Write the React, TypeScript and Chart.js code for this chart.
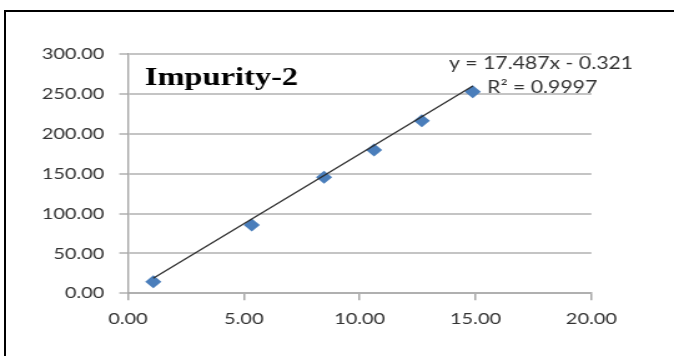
import React, { useEffect, useRef } from "react";
import { Chart, registerables } from "chart.js";

Chart.register(...registerables);

// ---- data ----
const concentrations = [1.09, 5.34, 8.46, 10.62, 12.68, 14.88];
const areas = [14.5, 85.6, 145.4, 179.6, 216.3, 252.6];
const xTicks = [0, 5, 10, 15, 20];
const yTicks = [0, 50, 100, 150, 200, 250, 300];
const slope = 17.487;
const intercept = -0.321;
const titleText = "Impurity-2";
const equationText = "y = 17.487x - 0.321";
const r2Text = "R\u00B2 = 0.9997";

// internal canvas is drawn narrower and stretched horizontally to match the reference
const DISPLAY_W = 674;
const DISPLAY_H = 356;
const CANVAS_W = 540;
const S = DISPLAY_W / CANVAS_W;

const annotations = {
  id: "annotations",
  afterDatasetsDraw(chart: any) {
    const { ctx, chartArea } = chart;
    ctx.save();
    ctx.fillStyle = "#000000";
    ctx.font = "bold 26px 'Liberation Serif', 'Times New Roman', serif";
    ctx.textAlign = "left";
    ctx.textBaseline = "alphabetic";
    ctx.fillText(titleText, chartArea.left + 13.5, 85);

    ctx.fillStyle = "#333333";
    ctx.font = "17px Lato, 'Open Sans', sans-serif";
    ctx.textAlign = "center";
    ctx.textBaseline = "middle";
    const cx = 541 / S;
    ctx.fillText(equationText, cx, 64);
    ctx.fillText(r2Text, cx + 1, 88);
    ctx.restore();
  },
};

export default function App() {
  const ref = useRef<HTMLCanvasElement | null>(null);

  useEffect(() => {
    if (!ref.current) return;
    const xMin = Math.min(...concentrations);
    const xMax = Math.max(...concentrations);
    const trend = [
      { x: xMin, y: slope * xMin + intercept },
      { x: xMax, y: slope * xMax + intercept },
    ];
    const points = concentrations.map((x, i) => ({ x, y: areas[i] }));

    const chart = new Chart(ref.current, {
      type: "scatter",
      data: {
        datasets: [
          {
            label: "Linear",
            data: trend,
            showLine: true,
            pointRadius: 0,
            borderColor: "#2a2a2a",
            borderWidth: 1.2,
            fill: false,
          },
          {
            label: titleText,
            data: points,
            pointStyle: "rectRot",
            pointRadius: 6.5,
            pointBackgroundColor: "#4a7ebb",
            pointBorderColor: "#4a7ebb",
            pointBorderWidth: 0,
            showLine: false,
          },
        ],
      },
      options: {
        responsive: false,
        animation: false,
        devicePixelRatio: 1,
        layout: {
          padding: { left: 0, right: CANVAS_W - 591.4 / S, top: 53.9, bottom: 0 },
        },
        plugins: {
          legend: { display: false },
          tooltip: { enabled: false },
          title: { display: false },
        },
        scales: {
          x: {
            type: "linear",
            min: 0,
            max: 20,
            afterBuildTicks: (scale: any) => {
              scale.ticks = xTicks.map((v) => ({ value: v }));
            },
            afterFit: (scale: any) => {
              scale.height = DISPLAY_H - 293.3;
            },
            ticks: {
              callback: (v: any) => Number(v).toFixed(2),
              font: { family: "Lato, 'Open Sans', sans-serif", size: 16 },
              color: "#333333",
              padding: 9,
              maxRotation: 0,
            },
            grid: {
              drawOnChartArea: false,
              drawTicks: true,
              tickLength: 7,
              color: "#a6a6a6",
              lineWidth: 1.5,
            },
            border: { display: true, color: "#b0b0b0", width: 2 },
          },
          y: {
            type: "linear",
            min: 0,
            max: 300,
            afterBuildTicks: (scale: any) => {
              scale.ticks = yTicks.map((v) => ({ value: v }));
            },
            afterFit: (scale: any) => {
              scale.width = 128 / S;
            },
            ticks: {
              callback: (v: any) => Number(v).toFixed(2),
              font: { family: "Lato, 'Open Sans', sans-serif", size: 16 },
              color: "#333333",
              padding: 12,
            },
            grid: {
              drawOnChartArea: true,
              drawTicks: true,
              tickLength: 7,
              color: "#c4c4c4",
              lineWidth: 2,
            },
            border: { display: true, color: "#a6a6a6", width: 1.4 },
          },
        },
      },
      plugins: [annotations],
    });
    return () => chart.destroy();
  }, []);

  return (
    <div
      style={{
        position: "fixed",
        left: 0,
        top: 0,
        width: DISPLAY_W + "px",
        height: DISPLAY_H + "px",
        overflow: "hidden",
        background: "#ffffff",
      }}
    >
      <canvas
        ref={ref}
        width={CANVAS_W}
        height={DISPLAY_H}
        style={{
          position: "absolute",
          left: 0,
          top: 0,
          width: DISPLAY_W + "px",
          height: DISPLAY_H + "px",
        }}
      />
      <div
        style={{
          position: "absolute",
          left: "4px",
          top: "10px",
          width: "700px",
          height: "400px",
          borderTop: "2px solid #000",
          borderLeft: "2px solid #000",
          pointerEvents: "none",
        }}
      />
    </div>
  );
}
